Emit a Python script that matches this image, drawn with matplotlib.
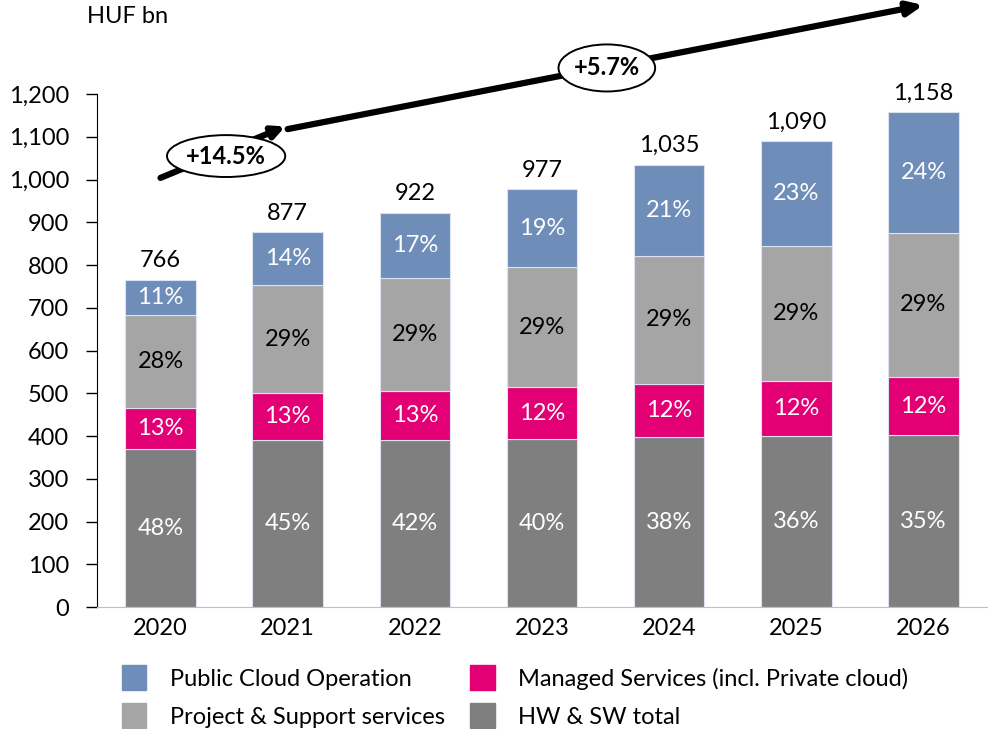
import matplotlib.pyplot as plt
from matplotlib.patches import Patch, Ellipse

plt.rcParams['font.family'] = ['Lato', 'DejaVu Sans']

years = ["2020", "2021", "2022", "2023", "2024", "2025", "2026"]
totals = [766, 877, 922, 977, 1035, 1090, 1158]
hw_sw = [370, 392, 390, 393, 398, 400, 402]
managed = [96, 109, 115, 122, 125, 129, 137]
project = [217, 252, 264, 280, 298, 315, 337]
cloud = [83, 124, 153, 182, 214, 246, 282]
hw_pct = ["48%", "45%", "42%", "40%", "38%", "36%", "35%"]
managed_pct = ["13%", "13%", "13%", "12%", "12%", "12%", "12%"]
project_pct = ["28%", "29%", "29%", "29%", "29%", "29%", "29%"]
cloud_pct = ["11%", "14%", "17%", "19%", "21%", "23%", "24%"]
cagr_labels = ["+14.5%", "+5.7%"]

c_cloud = "#6F8DB9"
c_managed = "#E20074"
c_project = "#A5A5A5"
c_hw = "#7F7F7F"
fs = 17

fig = plt.figure(figsize=(9.89, 7.29), dpi=100)
ax = fig.add_axes([0.098, 0.167, 0.9, 0.704])

x = list(range(len(years)))
w = 0.555
series = [
    (hw_sw, c_hw, hw_pct, "white"),
    (managed, c_managed, managed_pct, "white"),
    (project, c_project, project_pct, "black"),
    (cloud, c_cloud, cloud_pct, "white"),
]
bottom = [0] * len(years)
for vals, col, pcts, tcol in series:
    ax.bar(x, vals, w, bottom=bottom, color=col, edgecolor="#DCE3EE", linewidth=0.8)
    for i in x:
        ax.text(i, bottom[i] + vals[i] / 2, pcts[i], ha="center", va="center",
                color=tcol, fontsize=fs)
    bottom = [b + v for b, v in zip(bottom, vals)]

for i in x:
    ax.text(i, totals[i] + 20, f"{totals[i]:,}", ha="center", va="bottom", fontsize=fs)

ax.set_xlim(-0.5, 6.5)
ax.set_ylim(0, 1200)
ax.set_yticks(range(0, 1201, 100))
ax.set_yticklabels([f"{v:,}" for v in range(0, 1201, 100)])
ax.set_xticks(x)
ax.set_xticklabels(years)
ax.tick_params(axis="y", labelsize=fs, length=8, width=1, pad=12)
ax.tick_params(axis="x", labelsize=fs, length=0, pad=8)
for s in ["top", "right"]:
    ax.spines[s].set_visible(False)
ax.spines["left"].set_color("black")
ax.spines["bottom"].set_color("#BFBFBF")

fig.text(0.088, 0.977, "HUF bn", fontsize=fs, ha="left", va="center")

# CAGR arrows
ax.annotate("", xy=(0.98, 1124), xytext=(0.0, 1004),
            arrowprops=dict(arrowstyle="-|>,head_length=0.7,head_width=0.35", color="black",
                            lw=4.5, shrinkA=0, shrinkB=0), annotation_clip=False)
ax.annotate("", xy=(6.0, 1408), xytext=(1.0, 1118),
            arrowprops=dict(arrowstyle="-|>,head_length=0.9,head_width=0.4", color="black",
                            lw=4.5, shrinkA=0, shrinkB=0), annotation_clip=False)

for (cx, cy, ew, eh), lab in zip([(0.516, 1055, 0.93, 98), (3.51, 1261, 0.76, 110)], cagr_labels):
    ax.add_patch(Ellipse((cx, cy), ew, eh, facecolor="white", edgecolor="black", lw=1.4,
                         clip_on=False, zorder=5))
    ax.text(cx, cy, lab, ha="center", va="center", fontsize=fs, fontweight="bold", zorder=6)

leg_kw = dict(loc="lower left", frameon=False, fontsize=fs, handlelength=1.05,
              handleheight=1.25, handletextpad=1.0, labelspacing=0.55, borderpad=0,
              borderaxespad=0)
leg1 = fig.legend([Patch(color=c_cloud), Patch(color=c_project)],
                  ["Public Cloud Operation", "Project & Support services"],
                  bbox_to_anchor=(0.123, 0.001), **leg_kw)
leg2 = fig.legend([Patch(color=c_managed), Patch(color=c_hw)],
                  ["Managed Services (incl. Private cloud)", "HW & SW total"],
                  bbox_to_anchor=(0.475, 0.001), **leg_kw)

fig.savefig("out.png", dpi=100)
